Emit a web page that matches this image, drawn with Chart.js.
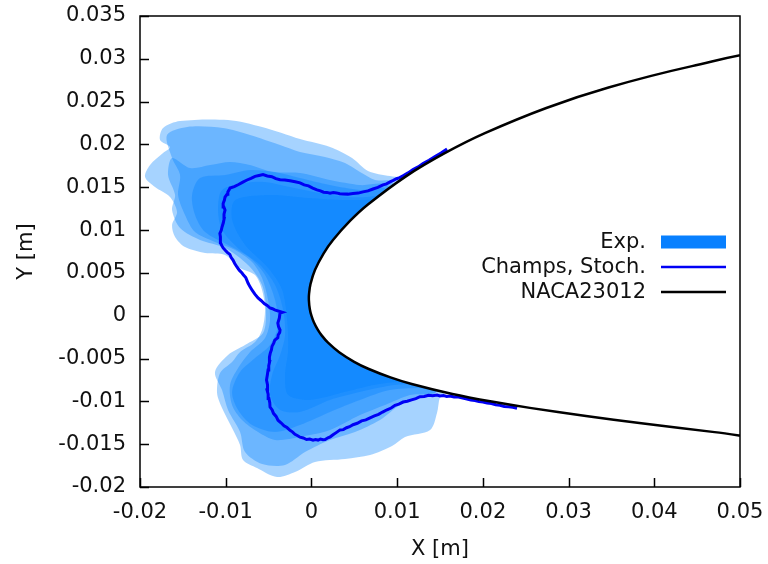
<!DOCTYPE html>
<html>
<head>
<meta charset="utf-8">
<script src="https://cdn.jsdelivr.net/npm/chart.js@4.4.1/dist/chart.umd.min.js"></script>
<style>
  html, body { margin: 0; padding: 0; background: #fff; }
  canvas { display: block; }
</style>
</head>
<body>
<canvas id="c" width="768" height="564" style="width:768px;height:564px"></canvas>
<script>
// Axis ticks
const xTicks = [-0.02, -0.01, 0, 0.01, 0.02, 0.03, 0.04, 0.05];
const xTickLabels = ['-0.02', '-0.01', '0', '0.01', '0.02', '0.03', '0.04', '0.05'];
const yTicks = [-0.02, -0.015, -0.01, -0.005, 0, 0.005, 0.01, 0.015, 0.02, 0.025, 0.03, 0.035];
const yTickLabels = ['-0.02', '-0.015', '-0.01', '-0.005', '0', '0.005', '0.01', '0.015', '0.02', '0.025', '0.03', '0.035'];
const legendLabels = ['Exp.', 'Champs, Stoch.', 'NACA23012'];

// NACA23012 contour [x, y] in metres: upper surface from aft to nose, then lower surface back aft
const airfoilUpper = [
  [0.075, 0.031], [0.05413, 0.030996], [0.044401, 0.029146], [0.034662, 0.026653], [0.027403, 0.024262],
  [0.020238, 0.021319], [0.015553, 0.018977], [0.010982, 0.016247], [0.00659, 0.012986],
  [0.004497, 0.011066], [0.002516, 0.008835], [0.001413, 0.00726], [0.000423, 0.005356],
  [-0.000108, 0.0037], [-0.000277, 0.002571], [-0.000295, 0.001796], [-0.000191, 0.00079], [0, 0]
];
const airfoilLower = [
  [0.000283, -0.000762], [0.000753, -0.001657], [0.001191, -0.002294], [0.001937, -0.003147],
  [0.003235, -0.004264], [0.004988, -0.005379], [0.006628, -0.006191], [0.009219, -0.007205],
  [0.011698, -0.007978], [0.01645, -0.009142], [0.021023, -0.010026], [0.025482, -0.010759],
  [0.032033, -0.011703], [0.03849, -0.012546], [0.047039, -0.013592], [0.055598, -0.014592],
  [0.075, -0.0146], [0.075, 0.031]
];

// Stochastic ice-shape prediction, lower-surface end to upper-surface end
const champsStoch = [
  [0.02399, -0.01080], [0.02350, -0.01068], [0.02300, -0.01062], [0.02250, -0.01060], [0.02200, -0.01045],
  [0.02150, -0.01040], [0.02101, -0.01025], [0.02050, -0.01020], [0.02002, -0.01008], [0.01955, -0.01003],
  [0.01908, -0.00990], [0.01860, -0.00985], [0.01815, -0.00972], [0.01765, -0.00962], [0.01716, -0.00950],
  [0.01665, -0.00948], [0.01617, -0.00938], [0.01580, -0.00942], [0.01541, -0.00932], [0.01500, -0.00936],
  [0.01465, -0.00926], [0.01415, -0.00934], [0.01366, -0.00928], [0.01316, -0.00942], [0.01267, -0.00946],
  [0.01218, -0.00968], [0.01168, -0.00982], [0.01118, -0.00998], [0.01069, -0.01008], [0.01020, -0.01032],
  [0.00975, -0.01046], [0.00930, -0.01078], [0.00882, -0.01098], [0.00830, -0.01125], [0.00783, -0.01152],
  [0.00735, -0.01170], [0.00684, -0.01192], [0.00635, -0.01216], [0.00585, -0.01228], [0.00535, -0.01256],
  [0.00485, -0.01273], [0.00445, -0.01296], [0.00410, -0.01308], [0.00372, -0.01330], [0.00334, -0.01333],
  [0.00293, -0.01362], [0.00252, -0.01390], [0.00220, -0.01414], [0.00193, -0.01425], [0.00160, -0.01446],
  [0.00135, -0.01448], [0.00105, -0.01440], [0.00077, -0.01452], [0.00048, -0.01446], [0.00019, -0.01454],
  [-0.00020, -0.01440], [-0.00057, -0.01446], [-0.00095, -0.01428], [-0.00133, -0.01418], [-0.00165, -0.01398],
  [-0.00192, -0.01384], [-0.00222, -0.01356], [-0.00250, -0.01338], [-0.00285, -0.01306], [-0.00320, -0.01286],
  [-0.00355, -0.01250], [-0.00390, -0.01220], [-0.00412, -0.01176], [-0.00443, -0.01140], [-0.00458, -0.01100],
  [-0.00483, -0.01066], [-0.00486, -0.01015], [-0.00496, -0.00968], [-0.00505, -0.00916], [-0.00518, -0.00868],
  [-0.00512, -0.00808], [-0.00524, -0.00751], [-0.00514, -0.00690], [-0.00506, -0.00634], [-0.00498, -0.00584],
  [-0.00487, -0.00535], [-0.00490, -0.00484], [-0.00480, -0.00436], [-0.00466, -0.00396], [-0.00460, -0.00358],
  [-0.00440, -0.00320], [-0.00427, -0.00284], [-0.00392, -0.00256], [-0.00388, -0.00224], [-0.00370, -0.00196],
  [-0.00366, -0.00167], [-0.00384, -0.00126], [-0.00392, -0.00085], [-0.00375, -0.00030], [-0.00366, 0.00032],
  [-0.00340, 0.00040], [-0.00428, 0.00068], [-0.00455, 0.00082], [-0.00483, 0.00090], [-0.00516, 0.00120],
  [-0.00548, 0.00140], [-0.00588, 0.00178], [-0.00623, 0.00207], [-0.00660, 0.00252], [-0.00690, 0.00295],
  [-0.00718, 0.00340], [-0.00740, 0.00382], [-0.00755, 0.00418], [-0.00766, 0.00445], [-0.00790, 0.00472],
  [-0.00810, 0.00499], [-0.00842, 0.00532], [-0.00869, 0.00569], [-0.00895, 0.00610], [-0.00915, 0.00650],
  [-0.00936, 0.00680], [-0.00952, 0.00716], [-0.00982, 0.00740], [-0.01008, 0.00767], [-0.01030, 0.00792],
  [-0.01047, 0.00821], [-0.01060, 0.00852], [-0.01066, 0.00884], [-0.01058, 0.00922], [-0.01068, 0.00960],
  [-0.01052, 0.00998], [-0.01043, 0.01036], [-0.01028, 0.01085], [-0.01018, 0.01135], [-0.01020, 0.01185],
  [-0.01008, 0.01234], [-0.01022, 0.01270], [-0.01030, 0.01310], [-0.01015, 0.01350], [-0.01008, 0.01386],
  [-0.00985, 0.01418], [-0.00975, 0.01446], [-0.00960, 0.01470], [-0.00950, 0.01491], [-0.00900, 0.01508],
  [-0.00850, 0.01532], [-0.00800, 0.01560], [-0.00751, 0.01585], [-0.00705, 0.01605], [-0.00658, 0.01628],
  [-0.00612, 0.01638], [-0.00565, 0.01648], [-0.00515, 0.01632], [-0.00462, 0.01624], [-0.00415, 0.01600],
  [-0.00366, 0.01587], [-0.00310, 0.01585], [-0.00250, 0.01576], [-0.00190, 0.01565], [-0.00133, 0.01552],
  [-0.00085, 0.01528], [-0.00034, 0.01516], [0.00015, 0.01490], [0.00065, 0.01470], [0.00105, 0.01458],
  [0.00141, 0.01442], [0.00180, 0.01440], [0.00217, 0.01430], [0.00255, 0.01438], [0.00293, 0.01434],
  [0.00330, 0.01424], [0.00369, 0.01422], [0.00425, 0.01420], [0.00485, 0.01428], [0.00545, 0.01432],
  [0.00602, 0.01446], [0.00660, 0.01458], [0.00718, 0.01480], [0.00775, 0.01498], [0.00835, 0.01528],
  [0.00876, 0.01540], [0.00917, 0.01563], [0.00955, 0.01580], [0.00993, 0.01600], [0.01030, 0.01612],
  [0.01069, 0.01634], [0.01127, 0.01668], [0.01185, 0.01706], [0.01245, 0.01738], [0.01302, 0.01776],
  [0.01372, 0.01815], [0.01442, 0.01858], [0.01512, 0.01900], [0.01582, 0.01947]
];

// Experimental ice tracings (closed contours, closing through the airfoil interior)
const expRun1 = [
  [0.018, 0.004],
  [0.01582, 0.01935], [0.01407, 0.01818], [0.01244, 0.01701], [0.01092, 0.01620], [0.00917, 0.01631],
  [0.00660, 0.01690], [0.00474, 0.01841], [0.00217, 0.01970], [-0.00133, 0.02063], [-0.00576, 0.02203],
  [-0.00973, 0.02285], [-0.01533, 0.02273], [-0.01731, 0.02192], [-0.01766, 0.02052], [-0.01650, 0.01970],
  [-0.01731, 0.01900], [-0.01883, 0.01760], [-0.01941, 0.01620], [-0.01825, 0.01503], [-0.01650, 0.01386],
  [-0.01568, 0.01211], [-0.01626, 0.01059], [-0.01591, 0.00919], [-0.01475, 0.00802], [-0.01241, 0.00732],
  [-0.01008, 0.00709], [-0.00833, 0.00557], [-0.00658, 0.00475], [-0.00576, 0.00300], [-0.00541, 0.00067],
  [-0.00576, -0.00167], [-0.00658, -0.00307], [-0.00833, -0.00424], [-0.00926, -0.00541], [-0.01066, -0.00669],
  [-0.01101, -0.00903], [-0.01043, -0.01078], [-0.00926, -0.01311], [-0.00833, -0.01510], [-0.00798, -0.01685],
  [-0.00635, -0.01778], [-0.00401, -0.01884], [-0.00191, -0.01825], [0.00042, -0.01708], [0.00392, -0.01673],
  [0.00684, -0.01627], [0.00940, -0.01522], [0.01092, -0.01416], [0.01384, -0.01335], [0.01465, -0.01136],
  [0.01500, -0.00949], [0.01559, -0.00891],
  [0.018, 0.004]
];
const expRun2 = [
  [0.018, 0.004],
  [0.00940, 0.01561], [0.00742, 0.01585], [0.00567, 0.01678], [0.00392, 0.01783], [0.00159, 0.01853],
  [-0.00133, 0.01912], [-0.00366, 0.01993], [-0.00716, 0.02110], [-0.01031, 0.02192], [-0.01451, 0.02204],
  [-0.01685, 0.02110], [-0.01626, 0.01842], [-0.01533, 0.01643], [-0.01556, 0.01409], [-0.01475, 0.01176],
  [-0.01358, 0.00977], [-0.01125, 0.00861], [-0.00891, 0.00767], [-0.00693, 0.00627], [-0.00576, 0.00440],
  [-0.00506, 0.00183], [-0.00483, -0.00050], [-0.00541, -0.00260], [-0.00716, -0.00424], [-0.00856, -0.00611],
  [-0.00950, -0.00809], [-0.00926, -0.01043], [-0.00810, -0.01218], [-0.00623, -0.01358], [-0.00425, -0.01451],
  [-0.00133, -0.01416], [0.00217, -0.01335], [0.00567, -0.01160], [0.00859, -0.01043], [0.01150, -0.00926],
  [0.01477, -0.00868],
  [0.018, 0.004]
];
const expRun3 = [
  [0.018, 0.004],
  [0.00894, 0.01515], [0.00567, 0.01526], [0.00217, 0.01585], [-0.00133, 0.01666], [-0.00448, 0.01678],
  [-0.00716, 0.01760], [-0.00950, 0.01795], [-0.01183, 0.01760], [-0.01416, 0.01725], [-0.01626, 0.01842],
  [-0.01673, 0.01643], [-0.01591, 0.01409], [-0.01626, 0.01234], [-0.01533, 0.01024], [-0.01300, 0.00884],
  [-0.01008, 0.00791], [-0.00740, 0.00592], [-0.00576, 0.00359], [-0.00530, 0.00067], [-0.00565, -0.00202],
  [-0.00775, -0.00342], [-0.00973, -0.00459], [-0.01125, -0.00657], [-0.01043, -0.00868], [-0.00973, -0.01101],
  [-0.00833, -0.01358], [-0.00775, -0.01592], [-0.00576, -0.01732], [-0.00308, -0.01743], [-0.00075, -0.01592],
  [0.00217, -0.01451], [0.00509, -0.01358], [0.00800, -0.01218], [0.01034, -0.01043], [0.01267, -0.00949],
  [0.01454, -0.00891],
  [0.018, 0.004]
];
const expRun4 = [
  [0.018, 0.004],
  [0.00894, 0.01468], [0.00567, 0.01468], [0.00217, 0.01526], [-0.00133, 0.01608], [-0.00425, 0.01678],
  [-0.00716, 0.01701], [-0.01008, 0.01643], [-0.01300, 0.01608], [-0.01393, 0.01409], [-0.01358, 0.01176],
  [-0.01241, 0.00977], [-0.00973, 0.00826], [-0.00716, 0.00674], [-0.00541, 0.00475], [-0.00425, 0.00183],
  [-0.00390, -0.00109], [-0.00483, -0.00342], [-0.00658, -0.00494], [-0.00833, -0.00657], [-0.00926, -0.00891],
  [-0.00856, -0.01101], [-0.00693, -0.01276], [-0.00425, -0.01358], [-0.00133, -0.01276], [0.00217, -0.01124],
  [0.00567, -0.00984], [0.00917, -0.00868], [0.01267, -0.00844], [0.01442, -0.00856],
  [0.018, 0.004]
];
const expRun5 = [
  [0.018, 0.004],
  [0.00940, 0.01468], [0.00742, 0.01398], [0.00450, 0.01386], [0.00100, 0.01433], [-0.00250, 0.01503],
  [-0.00541, 0.01561], [-0.00775, 0.01550], [-0.01043, 0.01468], [-0.01090, 0.01234], [-0.01043, 0.01001],
  [-0.00833, 0.00767], [-0.00600, 0.00592], [-0.00425, 0.00359], [-0.00331, 0.00067], [-0.00308, -0.00225],
  [-0.00366, -0.00459], [-0.00460, -0.00692], [-0.00483, -0.00926], [-0.00366, -0.01101], [-0.00133, -0.01124],
  [0.00217, -0.00984], [0.00567, -0.00891], [0.00975, -0.00809], [0.01325, -0.00798], [0.01419, -0.00821],
  [0.018, 0.004]
];
const expRun6 = [
  [0.018, 0.004],
  [0.00952, 0.01468], [0.00800, 0.01374], [0.00450, 0.01351], [-0.00016, 0.01374], [-0.00483, 0.01409],
  [-0.00891, 0.01351], [-0.00926, 0.01118], [-0.00775, 0.00826], [-0.00506, 0.00557], [-0.00343, 0.00300],
  [-0.00285, -0.00050], [-0.00273, -0.00401], [-0.00308, -0.00692], [-0.00273, -0.00926], [-0.00016, -0.00984],
  [0.00392, -0.00891], [0.00800, -0.00798], [0.01209, -0.00763], [0.01360, -0.00786],
  [0.018, 0.004]
];
const expRuns = [expRun1, expRun2, expRun3, expRun4, expRun5, expRun6];

const FONT = "'DejaVu Sans', sans-serif";
const TEXT = '#111';
const EXP_FILL = 'rgba(0, 128, 255, 0.35)';
const EXP_KEY = 'rgb(8, 128, 255)';
const STOCH_COLOR = 'rgb(0, 0, 245)';

const toXY = arr => arr.map(p => ({ x: p[0], y: p[1] }));

const datasets = [
  {
    label: legendLabels[2],
    data: toXY(airfoilUpper.concat(airfoilLower, [airfoilUpper[0]])),
    borderColor: '#000', borderWidth: 2.5, backgroundColor: '#fff',
    fill: 'shape', pointRadius: 0, tension: 0.35, order: 0
  },
  {
    label: legendLabels[1],
    data: toXY(champsStoch),
    borderColor: STOCH_COLOR, borderWidth: 3, fill: false,
    pointRadius: 0, tension: 0, order: 1
  }
];
expRuns.forEach((run, i) => {
  datasets.push({
    label: i === 0 ? legendLabels[0] : '',
    data: toXY(run),
    borderWidth: 0, borderColor: 'rgba(0,0,0,0)', backgroundColor: EXP_FILL,
    fill: 'shape', pointRadius: 0, tension: 0.3, order: 2 + i
  });
});

// Closed frame with inward tick marks
const framePlugin = {
  id: 'frame',
  afterDatasetsDraw(chart) {
    const { ctx, chartArea: a, scales: { x, y } } = chart;
    ctx.save();
    ctx.strokeStyle = '#000';
    ctx.lineWidth = 1.5;
    ctx.beginPath();
    xTicks.forEach(v => {
      const px = Math.round(x.getPixelForValue(v)) + 0.5;
      ctx.moveTo(px, a.bottom); ctx.lineTo(px, a.bottom - 9);
    });
    yTicks.forEach(v => {
      const py = Math.round(y.getPixelForValue(v)) + 0.5;
      ctx.moveTo(a.left, py); ctx.lineTo(a.left + 9, py);
    });
    ctx.stroke();
    ctx.strokeRect(a.left, a.top, a.right - a.left, a.bottom - a.top);
    ctx.restore();
  }
};

// Key inside the plot: text right-aligned, sample to its right
const keyPlugin = {
  id: 'key',
  afterDraw(chart) {
    const { ctx } = chart;
    const textRight = 646, x0 = 661, x1 = 726;
    const rows = [242, 267, 292];
    ctx.save();
    ctx.font = '21px ' + FONT;
    ctx.fillStyle = TEXT;
    ctx.textAlign = 'right';
    ctx.textBaseline = 'middle';
    legendLabels.forEach((t, i) => ctx.fillText(t, textRight, rows[i] + 1));
    ctx.fillStyle = EXP_KEY;
    ctx.fillRect(x0, rows[0] - 6.5, x1 - x0, 13);
    ctx.lineWidth = 2.5;
    ctx.strokeStyle = STOCH_COLOR;
    ctx.beginPath(); ctx.moveTo(x0, rows[1]); ctx.lineTo(x1, rows[1]); ctx.stroke();
    ctx.strokeStyle = '#000';
    ctx.beginPath(); ctx.moveTo(x0, rows[2]); ctx.lineTo(x1, rows[2]); ctx.stroke();
    ctx.restore();
  }
};

new Chart(document.getElementById('c'), {
  type: 'line',
  data: { datasets },
  options: {
    responsive: false,
    animation: false,
    events: [],
    layout: { padding: { left: 0, right: 28, top: 16, bottom: 0 } },
    plugins: { legend: { display: false }, tooltip: { enabled: false } },
    scales: {
      x: {
        type: 'linear', min: -0.02, max: 0.05,
        afterFit(s) { s.height = 77; s.paddingLeft = 0; s.paddingRight = 0; },
        afterBuildTicks(s) { s.ticks = xTicks.map(v => ({ value: v })); },
        grid: { display: false, drawTicks: false },
        border: { display: false },
        ticks: {
          autoSkip: false, maxRotation: 0, padding: 13, color: TEXT,
          font: { family: FONT, size: 21 },
          callback: (v, i) => xTickLabels[i]
        },
        title: {
          display: true, text: 'X [m]', color: TEXT,
          font: { family: FONT, size: 21 }, padding: { top: 0, bottom: 2 }
        }
      },
      y: {
        type: 'linear', min: -0.02, max: 0.035,
        afterFit(s) { s.width = 140; s.paddingTop = 0; s.paddingBottom = 0; },
        afterBuildTicks(s) { s.ticks = yTicks.map(v => ({ value: v })); },
        grid: { display: false, drawTicks: false },
        border: { display: false },
        ticks: {
          autoSkip: false, padding: 14, color: TEXT,
          font: { family: FONT, size: 21 },
          callback: (v, i) => yTickLabels[i]
        },
        title: {
          display: true, text: 'Y [m]', color: TEXT,
          font: { family: FONT, size: 21 }, padding: { top: 14, bottom: 0 }
        }
      }
    }
  },
  plugins: [framePlugin, keyPlugin]
});
</script>
</body>
</html>
